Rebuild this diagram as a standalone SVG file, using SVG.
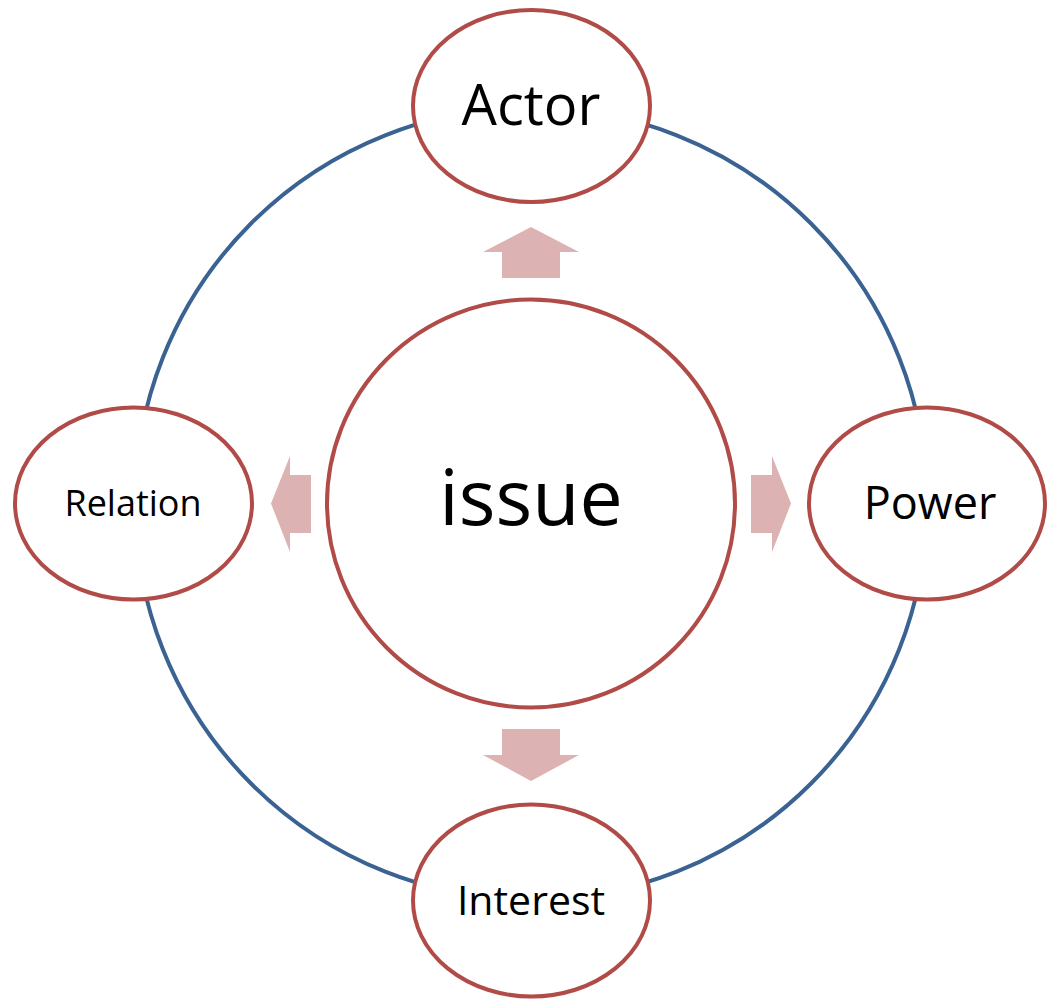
<svg xmlns="http://www.w3.org/2000/svg" width="1047" height="1000" viewBox="0 0 1047 1000">
<style>
.node{fill:#fff;stroke:#b04b48;stroke-width:4}
.ring{fill:none;stroke:#3a6292;stroke-width:4}
.arr{fill:#ddb2b2}
text{font-family:"Open Sans","Liberation Sans",sans-serif;fill:#000;text-anchor:middle}
</style>
<rect width="1047" height="1000" fill="#fff"/>
<g id="connectors">
<circle class="ring" cx="531" cy="503.5" r="396"/>
<polygon id="arrow-up" class="arr" points="531,227 579,252 560,252 560,278 502,278 502,252 483,252"/>
<polygon id="arrow-down" class="arr" points="531,781 579,755 560,755 560,729 502,729 502,755 483,755"/>
<polygon id="arrow-left" class="arr" points="271,503.5 290,456 290,475 311,475 311,533 290,533 290,552"/>
<polygon id="arrow-right" class="arr" points="791,503.5 772,456 772,475 751,475 751,533 772,533 772,552"/>
</g>
<g id="issue">
<circle class="node" cx="531" cy="503.5" r="204"/>
<text x="531" y="525" font-size="77">issue</text>
</g>
<g id="actor">
<ellipse class="node" cx="531.5" cy="106" rx="118.5" ry="96"/>
<text x="531" y="125" font-size="56">Actor</text>
</g>
<g id="relation">
<ellipse class="node" cx="133.5" cy="503.5" rx="118.5" ry="96"/>
<text x="133" y="516" font-size="36">Relation</text>
</g>
<g id="power">
<ellipse class="node" cx="927" cy="503.5" rx="118" ry="96"/>
<text x="930" y="519" font-size="45">Power</text>
</g>
<g id="interest">
<ellipse class="node" cx="531.5" cy="900.5" rx="118.5" ry="96"/>
<text x="531" y="915" font-size="41">Interest</text>
</g>
</svg>
